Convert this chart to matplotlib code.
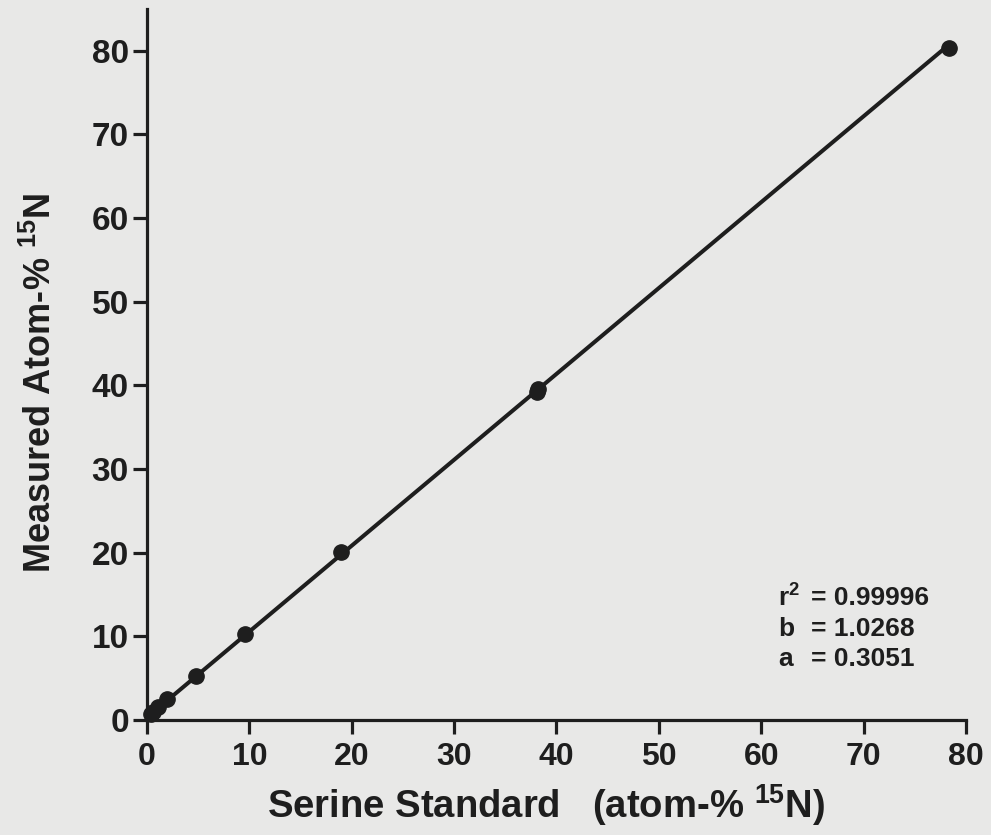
import numpy as np
import matplotlib
matplotlib.use("Agg")
import matplotlib.pyplot as plt

# serine standards vs measured enrichment (atom-% 15N)
standard = [0.37, 0.6, 1.1, 2.0, 4.8, 9.6, 19.0, 38.1, 38.2, 78.3]
measured = [0.7, 1.0, 1.5, 2.5, 5.3, 10.3, 20.1, 39.2, 39.6, 80.3]
slope = 1.0268
intercept = 0.3051
r_squared = 0.99996
x_ticks = [0, 10, 20, 30, 40, 50, 60, 70, 80]
y_ticks = [0, 10, 20, 30, 40, 50, 60, 70, 80]

BG = "#e8e8e7"
INK = "#1e1e1e"

plt.rcParams['font.family'] = ['Liberation Sans', 'DejaVu Sans']
plt.rcParams['font.weight'] = 'bold'
plt.rcParams['mathtext.fontset'] = 'custom'
plt.rcParams['mathtext.bf'] = 'Liberation Sans:bold'
plt.rcParams['mathtext.rm'] = 'Liberation Sans:bold'

fig = plt.figure(figsize=(9.91, 8.35), dpi=100, facecolor=BG)
ax = fig.add_axes([0.1483, 0.1377, 0.8265, 0.8515])
ax.patch.set_facecolor(BG)

# regression line over the range of the standards
fit_x = np.array([min(standard), max(standard)])
ax.plot(fit_x, slope * fit_x + intercept, color=INK, lw=2.9, solid_capstyle='round')
ax.plot(standard, measured, 'o', color=INK, ms=11, clip_on=False)

ax.set_xlim(0, 80)
ax.set_ylim(0, 85)
ax.set_xticks(x_ticks)
ax.set_yticks(y_ticks)
for side in ['top', 'right']:
    ax.spines[side].set_visible(False)
for side in ['left', 'bottom']:
    ax.spines[side].set_linewidth(2.3)
    ax.spines[side].set_color(INK)
ax.tick_params(axis='both', direction='out', length=10, width=2.3, colors=INK)
ax.tick_params(axis='x', pad=6, labelsize=23)
ax.tick_params(axis='y', pad=3, labelsize=24)
for lbl in ax.get_xticklabels() + ax.get_yticklabels():
    lbl.set_fontweight('bold')

ax.set_xlabel("Serine Standard   (atom-% $\\mathbf{^{15}}$N)", fontsize=27.5,
              fontweight='bold', color=INK)
ax.set_ylabel("Measured Atom-% $\\mathbf{^{15}}$N", fontsize=26,
              fontweight='bold', color=INK)
ax.xaxis.set_label_coords(0.487, -0.087)
ax.yaxis.set_label_coords(-0.108, 0.474)

names = ["r$\\mathbf{^2}$", "b", "a"]
values = [f"= {r_squared:.5f}", f"= {slope:.4f}", f"= {intercept:.4f}"]
for i, (n, v) in enumerate(zip(names, values)):
    y = 0.1716 - i * 0.0429
    ax.text(0.771, y, n, transform=ax.transAxes, fontsize=19, fontweight='bold',
            color=INK, va='center', ha='left')
    ax.text(0.811, y, v, transform=ax.transAxes, fontsize=19, fontweight='bold',
            color=INK, va='center', ha='left')

fig.savefig("out.png", dpi=100, facecolor=BG)
